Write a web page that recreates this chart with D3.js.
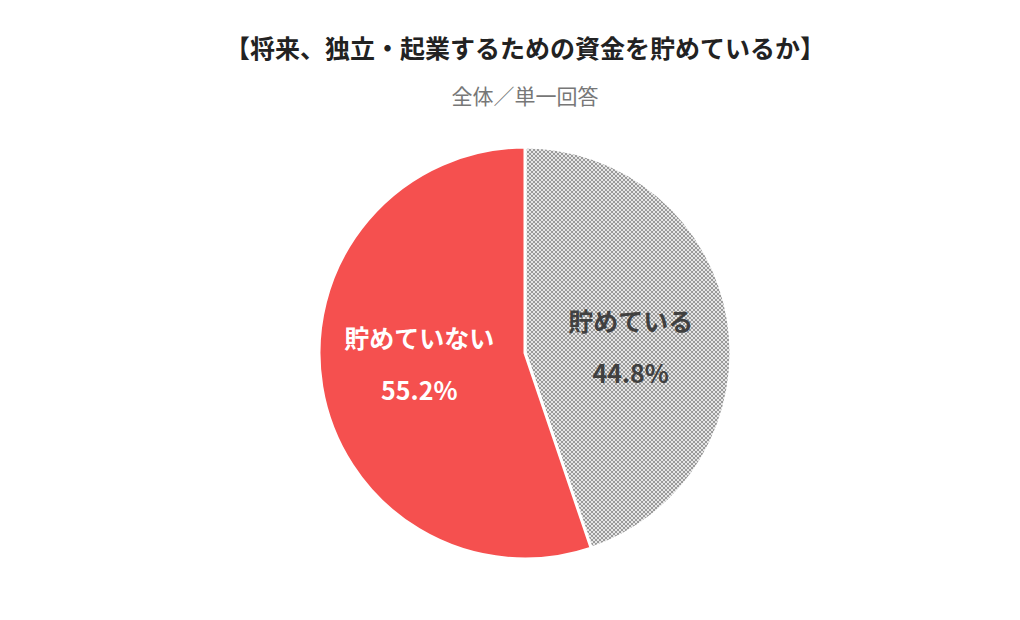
<!DOCTYPE html>
<html><head><meta charset="utf-8">
<script src="https://cdn.jsdelivr.net/npm/d3@7"></script>
<style>body{margin:0;background:#fff}</style>
</head><body>
<svg id="c" width="1020" height="620"></svg>
<script>
const labels = ['貯めている', '貯めていない'];
const values = [44.8, 55.2];

const svg = d3.select('#c');
const font = "'Noto Sans CJK JP', sans-serif";

// checkered grey pattern for the first slice
const defs = svg.append('defs');
const pat = defs.append('pattern').attr('id', 'chk')
  .attr('width', 4).attr('height', 4).attr('patternUnits', 'userSpaceOnUse');
pat.append('rect').attr('width', 4).attr('height', 4).attr('fill', '#e6e6e6');
pat.append('rect').attr('width', 2).attr('height', 2).attr('fill', '#9a9a9a');
pat.append('rect').attr('x', 2).attr('y', 2).attr('width', 2).attr('height', 2).attr('fill', '#9a9a9a');

svg.append('text').attr('x', 525).attr('y', 58).attr('text-anchor', 'middle')
  .attr('font-family', font).attr('font-weight', 'bold').attr('font-size', 25).attr('fill', '#222')
  .text('【将来、独立・起業するための資金を貯めているか】');
svg.append('text').attr('x', 525).attr('y', 104).attr('text-anchor', 'middle')
  .attr('font-family', font).attr('font-size', 21).attr('fill', '#777')
  .text('全体／単一回答');

const r = 206;
const g = svg.append('g').attr('transform', 'translate(525,353)');
const pie = d3.pie().sort(null).value(d => d);
const arc = d3.arc().innerRadius(0).outerRadius(r);
const fills = ['url(#chk)', '#f5504f'];
const arcs = pie(values);

g.selectAll('path').data(arcs).join('path')
  .attr('d', arc).attr('fill', (d, i) => fills[i])
  .attr('stroke', '#fff').attr('stroke-width', 3);

const labelArc = d3.arc().innerRadius(r * 0.52).outerRadius(r * 0.52);
const txtColor = ['#404040', '#fff'];
const dy = [-5, -22];
arcs.forEach((d, i) => {
  const [x, y] = labelArc.centroid(d);
  const t = g.append('text').attr('text-anchor', 'middle')
    .attr('font-family', font).attr('font-weight', 'bold').attr('font-size', 25)
    .attr('fill', txtColor[i]);
  t.append('tspan').attr('x', x).attr('y', y + dy[i]).text(labels[i]);
  t.append('tspan').attr('x', x).attr('y', y + dy[i] + 52).text(values[i].toFixed(1) + '%');
});
</script>
</body></html>
